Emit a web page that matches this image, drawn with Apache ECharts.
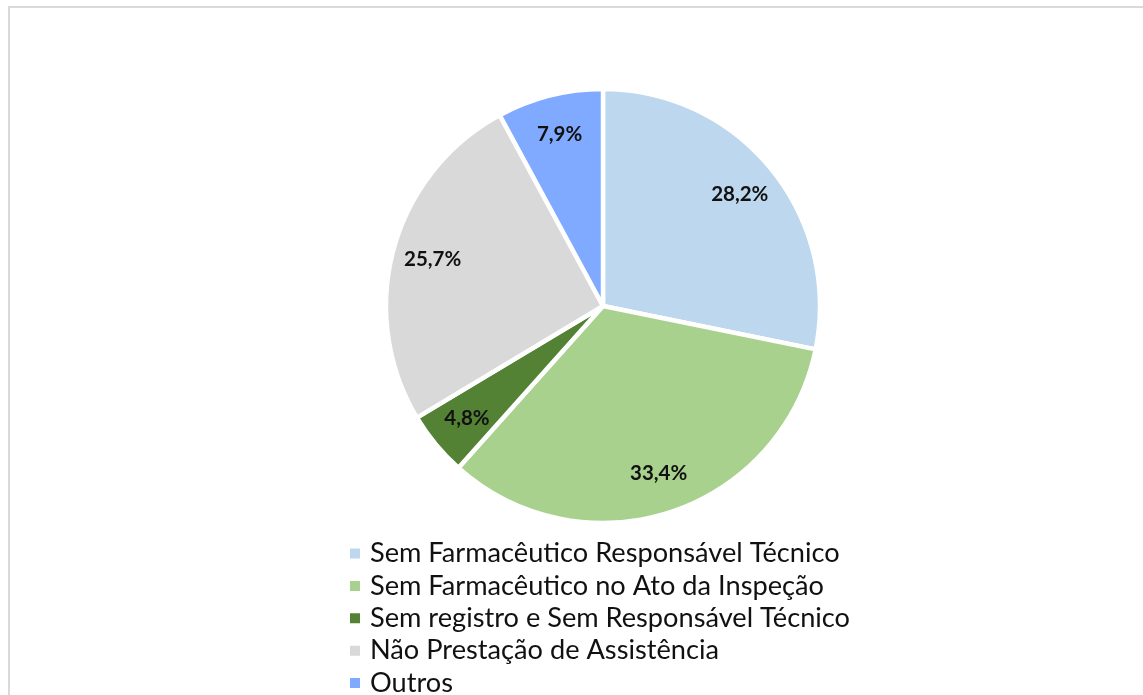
<!DOCTYPE html>
<html>
<head>
	<meta charset="utf-8">
	<title>Irregularidades</title>
	<script src="https://cdn.jsdelivr.net/npm/echarts@6/dist/echarts.min.js"></script>
	<style>
		* { margin: 0; padding: 0; }
		body { background: #fff; }
		#chart { width: 1143px; height: 695px; }
	</style>
</head>
<body>
<div id="chart"></div>
<script>
	var categories = [
		'Sem Farmacêutico Responsável Técnico',
		'Sem Farmacêutico no Ato da Inspeção',
		'Sem registro e Sem Responsável Técnico',
		'Não Prestação de Assistência',
		'Outros'
	];
	var values = [28.2, 33.4, 4.8, 25.7, 7.9];
	var colors = ['#bdd7ee', '#a9d18e', '#548235', '#d9d9d9', '#80aaff'];

	var pieData = categories.map(function (name, i) {
		return { name: name, value: values[i], itemStyle: { color: colors[i] } };
	});

	var center = [603, 306];
	var R = 217;

	var chart = echarts.init(document.getElementById('chart'), null, { renderer: 'canvas' });
	chart.setOption({
		animation: false,
		color: colors,
		graphic: [{
			type: 'rect',
			shape: { x: 9, y: 7, width: 1160, height: 720 },
			style: { fill: 'none', stroke: '#d9d9d9', lineWidth: 2 },
			silent: true
		}],
		legend: {
			orient: 'vertical',
			left: 348,
			top: 540,
			height: 200,
			padding: 0,
			icon: 'rect',
			itemWidth: 12,
			itemHeight: 12,
			itemGap: 5.4,
			textStyle: {
				fontFamily: 'Lato',
				fontSize: 27.2,
				color: '#111',
				padding: [0, 0, 0, 4]
			},
			data: categories
		},
		series: [{
			type: 'pie',
			center: center,
			radius: [0, R],
			startAngle: 90,
			clockwise: true,
			silent: true,
			itemStyle: { borderColor: '#fff', borderWidth: 4.5 },
			label: { show: false },
			labelLine: { show: false },
			data: pieData
		}, {
			// label-only ring so the labels sit near the outer edge
			type: 'pie',
			center: center,
			radius: [R * 0.6, R],
			startAngle: 90,
			clockwise: true,
			silent: true,
			itemStyle: { color: 'transparent' },
			label: {
				show: true,
				position: 'inside',
				fontFamily: 'Lato',
				fontWeight: 'bold',
				fontSize: 20.5,
				color: '#111',
				formatter: function (p) {
					return p.value.toFixed(1).replace('.', ',') + '%';
				}
			},
			labelLine: { show: false },
			data: categories.map(function (name, i) {
				return { name: name, value: values[i] };
			})
		}]
	});
</script>
</body>
</html>
